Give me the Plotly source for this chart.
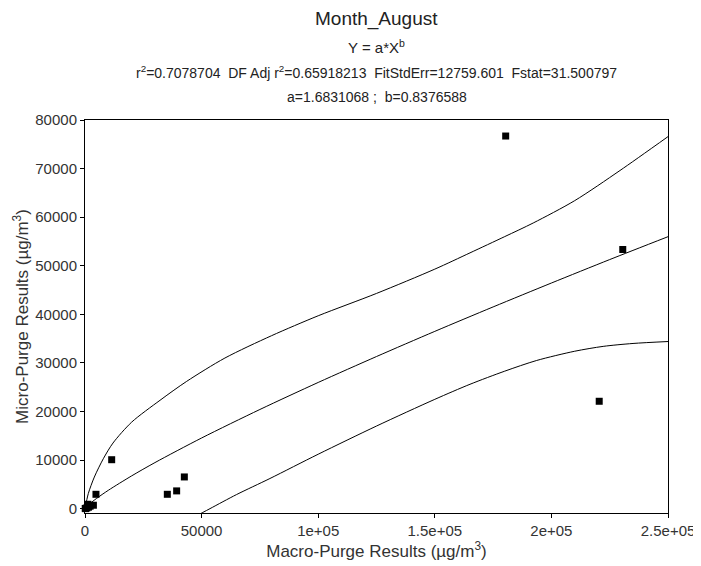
import plotly.graph_objects as go

# observed points (macro vs micro purge results)
macro_x = [100, 300, 800, 1500, 2200, 3600, 4700, 11440,
           35300, 39300, 42600, 180400, 220500, 230600, 1200]
micro_y = [50, 0, 150, 300, 500, 700, 2950, 10070,
           2950, 3650, 6520, 76700, 22100, 53340, 900]

# fitted curve Y = a*X^b
fit_x = [0, 2000, 5000, 10000, 20000, 30000, 50000, 75000, 100000,
         125000, 150000, 175000, 200000, 225000, 250000]
fit_y = [0, 980, 2111, 3773, 6742, 9480, 14540, 20410, 25975,
         31310, 36490, 41520, 46440, 51270, 55980]

# upper confidence band
upper_x = [0, 1420, 4000, 7850, 12000, 20000, 32160, 43600, 60000, 80000,
           100000, 125000, 150000, 165100, 180000, 192200, 210000, 229400, 250000]
upper_y = [0, 3100, 6500, 10270, 13500, 17800, 22300, 26200, 31000, 35600,
           39700, 44300, 49300, 52650, 56000, 58800, 63400, 69600, 76580]

# lower confidence band
lower_x = [45000, 53600, 65000, 79300, 100000, 125000, 150000, 165100,
           180000, 193700, 210000, 222200, 235000, 250000]
lower_y = [-2200, 0, 2900, 6200, 11200, 17000, 22500, 25600,
           28300, 30500, 32400, 33400, 34000, 34400]

x_ticks = [0, 50000, 100000, 150000, 200000, 250000]
x_tick_text = ["0", "50000", "1e+05", "1.5e+05", "2e+05", "2.5e+05"]
y_ticks = [0, 10000, 20000, 30000, 40000, 50000, 60000, 70000, 80000]

font_fam = "Arial, Liberation Sans, sans-serif"
line_style = dict(color="black", width=1)

# page has an 8px body margin, so the figure is shifted by 8px
OFF = 8
W, H = 701, 566
ML, MT = 77, 112
plot_w, plot_h = 583, 393
MR = W - ML - plot_w
MB = H - MT - plot_h


def px_to_paper(px, py):
    return ((px - OFF - ML) / plot_w,
            (H - (py - OFF) - MB) / plot_h)


fig = go.Figure()
for xs, ys in [(upper_x, upper_y), (fit_x, fit_y), (lower_x, lower_y)]:
    fig.add_trace(go.Scatter(x=xs, y=ys, mode="lines", line=line_style,
                             line_shape="spline", line_smoothing=0.8,
                             hoverinfo="skip"))
fig.add_trace(go.Scatter(
    x=macro_x, y=micro_y, mode="markers", cliponaxis=False,
    marker=dict(symbol="square", size=7, color="black")))

# title block: (text, page y, font size)
texts = [
    ("Month_August", 19, 19),
    ("Y = a*X<sup>b</sup>", 47, 15),
    ("r<sup>2</sup>=0.7078704  DF Adj r<sup>2</sup>=0.65918213  "
     "FitStdErr=12759.601  Fstat=31.500797", 72, 14),
    ("a=1.6831068 ;  b=0.8376588", 97, 14),
]
annos = []
for txt, py, sz in texts:
    ax, ay = px_to_paper(376.5, py)
    annos.append(dict(text=txt, xref="paper", yref="paper",
                      x=ax, y=ay, showarrow=False,
                      font=dict(size=sz, color="#222", family=font_fam),
                      xanchor="center", yanchor="middle"))

fig.update_layout(
    width=W, height=H,
    paper_bgcolor="white", plot_bgcolor="white",
    showlegend=False,
    margin=dict(l=ML, r=MR, t=MT, b=MB),
    font=dict(family=font_fam, size=15, color="#333"),
    annotations=annos,
    xaxis=dict(
        range=[0, 250000], tickvals=x_ticks, ticktext=x_tick_text,
        showgrid=False, zeroline=False, automargin=False,
        showline=True, linecolor="black", linewidth=1, mirror=True,
        ticks="outside", ticklen=4, tickcolor="black",
        title=dict(text="Macro-Purge Results (µg/m<sup>3</sup>)",
                   font=dict(size=17, color="#333"), standoff=2),
    ),
    yaxis=dict(
        range=[-900, 80000], tickvals=y_ticks,
        ticktext=[str(v) for v in y_ticks],
        showgrid=False, zeroline=False, automargin=False,
        showline=True, linecolor="black", linewidth=1, mirror=True,
        ticks="outside", ticklen=4, tickcolor="black",
        title=dict(text="Micro-Purge Results (µg/m<sup>3</sup>)",
                   font=dict(size=17, color="#333"), standoff=2),
    ),
)

fig.write_html("out.html")
